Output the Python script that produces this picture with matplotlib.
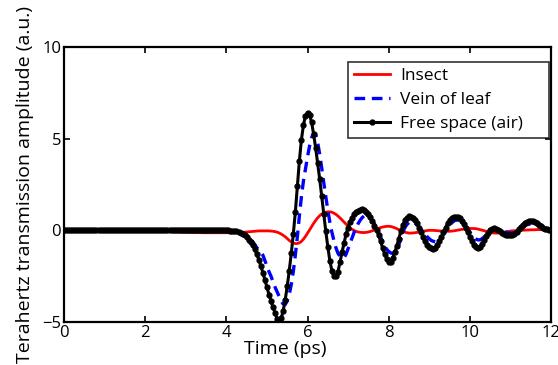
import matplotlib
matplotlib.use("Agg")
import matplotlib.pyplot as plt
import numpy as np

plt.rcParams['font.family'] = ['Open Sans', 'DejaVu Sans']

# time axis (ps), sampled every 0.05 ps
time_ps = np.round(np.arange(0, 12.0001, 0.05), 2)

# amplitude (a.u.), one value per time sample
insect = [
    0.00, 0.00, 0.00, 0.00, 0.00, 0.00, 0.00, 0.00, 0.00, 0.00,
    0.00, 0.00, 0.00, 0.00, 0.00, 0.00, 0.00, 0.00, 0.00, 0.00,
    0.00, 0.00, 0.00, 0.00, 0.00, 0.00, 0.00, 0.00, 0.00, 0.00,
    0.00, 0.00, 0.00, 0.00, 0.00, 0.00, 0.00, 0.00, 0.00, -0.01,
    -0.01, -0.01, -0.02, -0.02, -0.03, -0.03, -0.04, -0.04, -0.05, -0.05,
    -0.06, -0.06, -0.07, -0.07, -0.08, -0.08, -0.09, -0.09, -0.10, -0.10,
    -0.10, -0.11, -0.11, -0.11, -0.12, -0.12, -0.12, -0.12, -0.13, -0.13,
    -0.13, -0.13, -0.13, -0.13, -0.13, -0.13, -0.13, -0.13, -0.13, -0.13,
    -0.13, -0.13, -0.13, -0.13, -0.13, -0.12, -0.12, -0.12, -0.11, -0.10,
    -0.09, -0.08, -0.07, -0.06, -0.05, -0.04, -0.03, -0.03, -0.03, -0.03,
    -0.03, -0.03, -0.04, -0.05, -0.07, -0.10, -0.14, -0.20, -0.27, -0.35,
    -0.45, -0.55, -0.63, -0.69, -0.72, -0.72, -0.68, -0.60, -0.48, -0.33,
    -0.16, 0.02, 0.20, 0.38, 0.54, 0.68, 0.80, 0.89, 0.95, 0.99,
    1.01, 1.01, 0.99, 0.94, 0.87, 0.78, 0.68, 0.57, 0.45, 0.34,
    0.23, 0.13, 0.05, -0.01, -0.06, -0.09, -0.11, -0.12, -0.12, -0.11,
    -0.09, -0.06, -0.02, 0.02, 0.07, 0.11, 0.15, 0.18, 0.20, 0.22,
    0.22, 0.21, 0.18, 0.14, 0.09, 0.04, -0.01, -0.06, -0.10, -0.13,
    -0.15, -0.15, -0.14, -0.13, -0.11, -0.09, -0.07, -0.05, -0.03, -0.01,
    0.00, 0.00, 0.00, -0.01, -0.02, -0.03, -0.04, -0.05, -0.05, -0.05,
    -0.05, -0.04, -0.03, -0.01, 0.01, 0.03, 0.05, 0.07, 0.08, 0.09,
    0.10, 0.10, 0.10, 0.09, 0.07, 0.04, 0.01, -0.02, -0.05, -0.08,
    -0.11, -0.13, -0.15, -0.15, -0.15, -0.14, -0.12, -0.10, -0.08, -0.06,
    -0.04, -0.03, -0.02, -0.01, 0.00, 0.00, 0.01, 0.01, 0.02, 0.02,
    0.03, 0.03, 0.03, 0.04, 0.04, 0.04, 0.05, 0.05, 0.05, 0.05,
    0.05,
]

vein_of_leaf = [
    0.02, 0.02, 0.02, 0.02, 0.02, 0.02, 0.02, 0.02, 0.02, 0.02,
    0.02, 0.02, 0.02, 0.02, 0.02, 0.02, 0.02, 0.02, 0.02, 0.02,
    0.02, 0.02, 0.02, 0.02, 0.02, 0.02, 0.02, 0.02, 0.02, 0.02,
    0.02, 0.02, 0.02, 0.02, 0.02, 0.02, 0.02, 0.02, 0.02, 0.02,
    0.02, 0.02, 0.02, 0.02, 0.02, 0.02, 0.02, 0.02, 0.02, 0.02,
    0.02, 0.02, 0.02, 0.02, 0.02, 0.02, 0.02, 0.02, 0.02, 0.02,
    0.02, 0.02, 0.02, 0.02, 0.02, 0.02, 0.02, 0.02, 0.02, 0.02,
    0.02, 0.02, 0.02, 0.01, 0.01, 0.01, 0.01, 0.01, 0.00, 0.00,
    0.00, 0.00, 0.00, -0.01, -0.02, -0.04, -0.06, -0.09, -0.14, -0.20,
    -0.28, -0.38, -0.50, -0.63, -0.78, -0.95, -1.05, -1.20, -1.35, -1.65,
    -1.95, -2.25, -2.50, -2.80, -3.10, -3.35, -3.60, -3.85, -4.02, -4.05,
    -3.85, -3.50, -2.95, -2.25, -1.35, -0.35, 0.80, 1.85, 2.70, 3.35,
    4.00, 4.60, 5.05, 5.30, 5.20, 4.80, 4.15, 3.40, 2.60, 1.85,
    1.10, 0.45, -0.10, -0.55, -0.95, -1.25, -1.42, -1.52, -1.50, -1.30,
    -1.00, -0.70, -0.40, -0.10, 0.15, 0.38, 0.56, 0.70, 0.80, 0.83,
    0.80, 0.70, 0.55, 0.35, 0.12, -0.12, -0.38, -0.62, -0.85, -1.03,
    -1.15, -1.23, -1.26, -1.22, -1.08, -0.80, -0.45, -0.10, 0.15, 0.32,
    0.43, 0.47, 0.46, 0.40, 0.30, 0.18, 0.05, -0.08, -0.22, -0.35,
    -0.46, -0.55, -0.60, -0.62, -0.60, -0.52, -0.38, -0.22, -0.05, 0.12,
    0.28, 0.40, 0.50, 0.55, 0.56, 0.53, 0.45, 0.34, 0.20, 0.05,
    -0.10, -0.25, -0.38, -0.47, -0.52, -0.52, -0.46, -0.36, -0.24, -0.12,
    -0.02, 0.05, 0.09, 0.10, 0.08, 0.04, -0.01, -0.06, -0.10, -0.13,
    -0.15, -0.15, -0.12, -0.06, 0.02, 0.10, 0.18, 0.25, 0.30, 0.33,
    0.35, 0.35, 0.33, 0.30, 0.26, 0.22, 0.18, 0.14, 0.11, 0.08,
    0.06,
]

free_space = [
    0.02, 0.03, 0.03, 0.02, 0.02, 0.02, 0.03, 0.03, 0.02, 0.02,
    0.02, 0.01, 0.01, 0.02, 0.02, 0.03, 0.03, 0.03, 0.02, 0.02,
    0.02, 0.02, 0.03, 0.03, 0.04, 0.04, 0.03, 0.03, 0.02, 0.02,
    0.02, 0.02, 0.03, 0.03, 0.03, 0.03, 0.02, 0.02, 0.02, 0.03,
    0.03, 0.04, 0.04, 0.04, 0.03, 0.03, 0.02, 0.02, 0.02, 0.02,
    0.03, 0.03, 0.03, 0.02, 0.02, 0.02, 0.02, 0.03, 0.03, 0.03,
    0.02, 0.02, 0.02, 0.02, 0.03, 0.03, 0.03, 0.02, 0.02, 0.02,
    0.02, 0.02, 0.02, 0.02, 0.02, 0.01, 0.01, 0.01, 0.01, 0.00,
    0.00, 0.00, -0.01, -0.02, -0.03, -0.05, -0.08, -0.12, -0.18, -0.26,
    -0.36, -0.50, -0.65, -0.82, -1.02, -1.30, -1.60, -1.95, -2.30, -2.70,
    -3.10, -3.50, -3.85, -4.20, -4.50, -4.82, -4.95, -4.80, -4.40, -3.80,
    -3.05, -2.20, -1.25, -0.20, 1.00, 2.40, 3.80, 4.95, 5.75, 6.25,
    6.42, 6.30, 5.90, 5.25, 4.50, 3.65, 2.80, 1.85, 0.90, -0.05,
    -0.90, -1.65, -2.20, -2.50, -2.50, -2.25, -1.75, -1.20, -0.70, -0.20,
    0.15, 0.45, 0.70, 0.88, 1.00, 1.08, 1.13, 1.15, 1.12, 1.02,
    0.90, 0.72, 0.50, 0.25, 0.02, -0.25, -0.60, -0.95, -1.30, -1.55,
    -1.70, -1.70, -1.50, -1.20, -0.85, -0.45, -0.05, 0.30, 0.55, 0.68,
    0.76, 0.75, 0.68, 0.55, 0.40, 0.15, -0.10, -0.35, -0.60, -0.80,
    -0.92, -0.98, -1.00, -0.95, -0.80, -0.60, -0.35, -0.10, 0.15, 0.38,
    0.55, 0.66, 0.72, 0.74, 0.72, 0.65, 0.52, 0.35, 0.12, -0.10,
    -0.35, -0.58, -0.78, -0.90, -0.95, -0.90, -0.75, -0.55, -0.32, -0.12,
    0.02, 0.10, 0.12, 0.10, 0.04, -0.04, -0.12, -0.20, -0.25, -0.28,
    -0.28, -0.25, -0.18, -0.08, 0.05, 0.18, 0.30, 0.40, 0.47, 0.51,
    0.52, 0.50, 0.45, 0.38, 0.30, 0.22, 0.15, 0.10, 0.06, 0.03,
    0.02,
]

fig = plt.figure(figsize=(5.58, 3.65), dpi=100)
ax = fig.add_axes([0.1147, 0.1178, 0.8728, 0.7534])

ax.plot(time_ps, insect, color='red', lw=2.0, label='Insect')
ax.plot(time_ps, vein_of_leaf, color='blue', lw=2.4, dashes=(3.2, 2.0),
        label='Vein of leaf')
ax.plot(time_ps, free_space, color='black', lw=2.2, marker='o', ms=3.5,
        label='Free space (air)')

ax.set_xlim(0, 12)
ax.set_ylim(-5, 10)
ax.set_xticks(range(0, 13, 2))
ax.set_yticks([-5, 0, 5, 10])
ax.tick_params(direction='in', length=4, width=1.2, top=True, right=True,
               labelsize=12, pad=2)
for sp in ax.spines.values():
    sp.set_linewidth(1.6)

ax.set_xlabel('Time (ps)', fontsize=14)
ax.xaxis.set_label_coords(0.454, -0.065, transform=ax.transAxes)
ax.xaxis.label.set_va('top')
ax.set_ylabel('Terahertz transmission amplitude (a.u.)', fontsize=14,
              labelpad=6)

# legend box stretched to the reference width (text stays left)
leg = ax.legend(loc='upper left', mode='expand', fontsize=12.5, frameon=True,
                fancybox=False, edgecolor='black', borderpad=0.35,
                labelspacing=0.45, handlelength=2.1, handletextpad=0.55,
                borderaxespad=0,
                bbox_to_anchor=(0.583, 0.669, 0.413, 0.276))
leg.get_frame().set_linewidth(1.2)

fig.savefig('out.png', dpi=100)
